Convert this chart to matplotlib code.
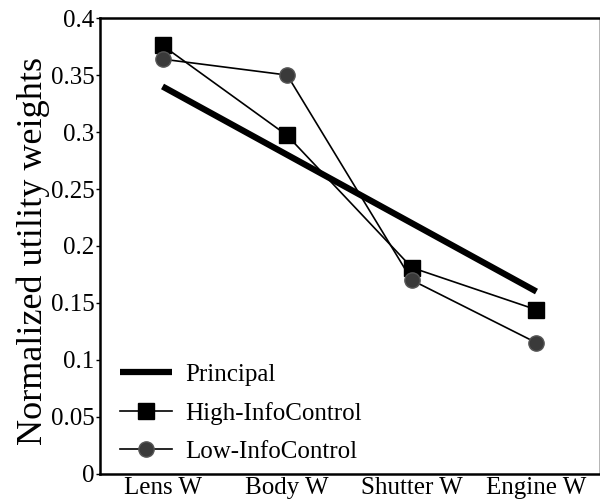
import numpy as np
import matplotlib.pyplot as plt

# values
categories = ['Lens W', 'Body W', 'Shutter W', 'Engine W']
principal = [0.340, 0.280, 0.220, 0.160]
high_info = [0.376, 0.297, 0.181, 0.144]
low_info = [0.364, 0.350, 0.170, 0.115]
yticks = [0, 0.05, 0.1, 0.15, 0.2, 0.25, 0.3, 0.35, 0.4]
ytick_labels = ['0', '0.05', '0.1', '0.15', '0.2', '0.25', '0.3', '0.35', '0.4']

plt.rcParams['font.family'] = ['Liberation Serif', 'DejaVu Serif']

fig = plt.figure(figsize=(6.0, 5.03), dpi=100)
ax = fig.add_axes([0.167, 0.058, 0.831, 0.906])

x = np.arange(len(categories))
ax.plot(x, principal, color='black', lw=4.5, solid_capstyle='butt', label='Principal')
ax.plot(x, high_info, color='black', lw=1.2, marker='s', ms=12,
        markerfacecolor='black', markeredgecolor='black', label='High-InfoControl')
ax.plot(x, low_info, color='black', lw=1.2, marker='o', ms=11,
        markerfacecolor='#3a3a3a', markeredgecolor='#555555', label='Low-InfoControl')

ax.set_xlim(-0.5, 3.5)
ax.set_ylim(0, 0.4)
ax.set_xticks(x)
ax.set_xticklabels(categories, fontsize=18)
ax.set_yticks(yticks)
ax.set_yticklabels(ytick_labels, fontsize=18)
ax.tick_params(axis='x', length=0, pad=2)
ax.tick_params(axis='y', length=3, width=1, pad=1)
ax.set_ylabel('Normalized utility weights', fontsize=26)
ax.yaxis.set_label_coords(-0.1, 0.49)

for side in ['left', 'bottom', 'top']:
    ax.spines[side].set_linewidth(1.8)
ax.spines['right'].set_linewidth(0.6)
ax.spines['right'].set_color('#aaaaaa')

ax.legend(loc='lower left', bbox_to_anchor=(0.017, 0.0), frameon=False, fontsize=18,
          handlelength=2.1, handletextpad=0.5, labelspacing=0.62, borderaxespad=0.05)

fig.savefig('out.png', dpi=100)
